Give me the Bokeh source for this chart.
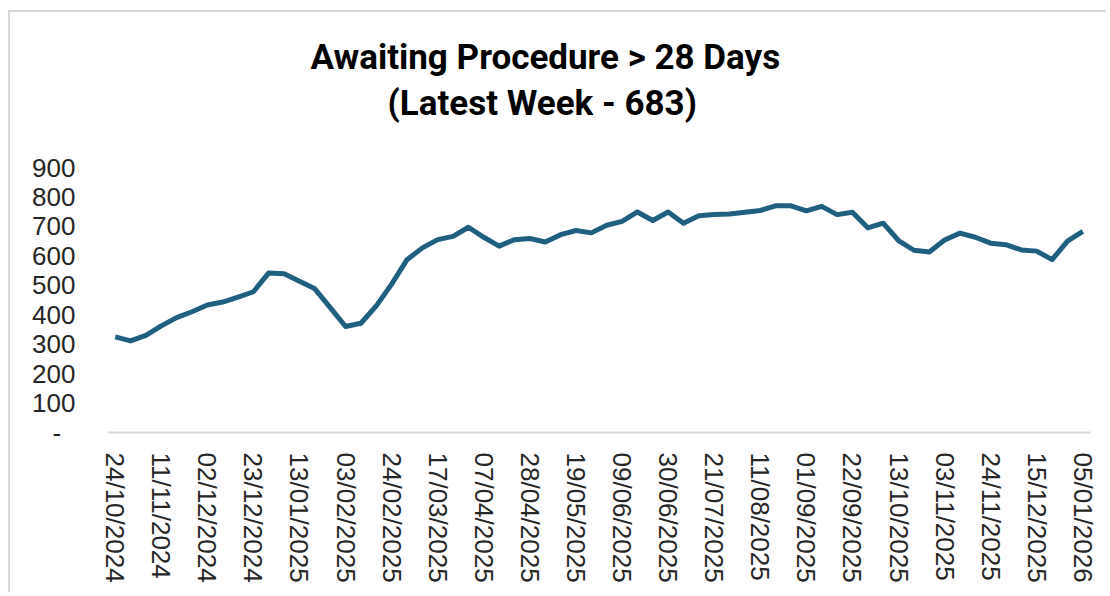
from bokeh.plotting import figure
from bokeh.models import FixedTicker, ColumnDataSource, Title
from bokeh.embed import file_html
from bokeh.resources import INLINE

week_labels = [
    "24/10/2024", "28/10/2024", "04/11/2024", "11/11/2024", "18/11/2024", "25/11/2024",
    "02/12/2024", "09/12/2024", "16/12/2024", "23/12/2024", "30/12/2024",
    "06/01/2025", "13/01/2025", "20/01/2025", "27/01/2025", "03/02/2025", "10/02/2025",
    "17/02/2025", "24/02/2025", "03/03/2025", "10/03/2025", "17/03/2025", "24/03/2025",
    "31/03/2025", "07/04/2025", "14/04/2025", "21/04/2025", "28/04/2025", "05/05/2025",
    "12/05/2025", "19/05/2025", "26/05/2025", "02/06/2025", "09/06/2025", "16/06/2025",
    "23/06/2025", "30/06/2025", "07/07/2025", "14/07/2025", "21/07/2025", "28/07/2025",
    "04/08/2025", "11/08/2025", "18/08/2025", "25/08/2025", "01/09/2025", "08/09/2025",
    "15/09/2025", "22/09/2025", "29/09/2025", "06/10/2025", "13/10/2025", "20/10/2025",
    "27/10/2025", "03/11/2025", "10/11/2025", "17/11/2025", "24/11/2025", "01/12/2025",
    "08/12/2025", "15/12/2025", "22/12/2025", "29/12/2025", "05/01/2026",
]

awaiting = [
    325, 311, 330, 362, 390, 410, 433, 443, 460, 478, 542, 539, 514, 488, 424, 360,
    371, 430, 504, 587, 627, 655, 666, 697, 663, 633, 655, 659, 647, 672, 686, 678,
    704, 717, 749, 720, 749, 711, 736, 740, 742, 748, 754, 770, 770, 753, 768, 740,
    748, 695, 711, 652, 619, 613, 654, 677, 663, 643, 638, 620, 616, 587, 650, 683,
]

y_ticks = [0, 100, 200, 300, 400, 500, 600, 700, 800, 900]
y_tick_labels = ["-\u2007", "100", "200", "300", "400", "500", "600", "700", "800", "900"]
label_every = 3

title_line1 = "Awaiting Procedure > 28 Days"
title_line2 = "(Latest Week - 683)"

idx = list(range(len(week_labels)))
source = ColumnDataSource(data=dict(x=idx, y=awaiting, week=week_labels))

p = figure(
    width=1098, height=582,
    x_range=(-0.5, len(week_labels) - 0.5),
    y_range=(y_ticks[0], y_ticks[-1]),
    output_backend="svg", toolbar_location=None,
    min_border_left=97, min_border_right=18, min_border_top=155, min_border_bottom=162,
)
p.styles = {
    "margin-left": "8px", "margin-top": "10px",
    "border-top": "2px solid #d9d9d9", "border-left": "2px solid #d9d9d9",
}

p.title = None
spacer = Title(text=" ", align="left", standoff=29, text_font_size="10px")
t2 = Title(text=title_line2, align="left", offset=280, standoff=3,
           text_font="Roboto", text_font_style="bold", text_font_size="35px",
           text_color="#000000")
t1 = Title(text=title_line1, align="left", offset=203, standoff=3,
           text_font="Roboto", text_font_style="bold", text_font_size="35px",
           text_color="#000000")
p.add_layout(spacer, "above")
p.add_layout(t2, "above")
p.add_layout(t1, "above")

p.line("x", "y", source=source, line_color="#1f5f80", line_width=5, line_join="round")

p.xgrid.visible = False
p.ygrid.visible = False
p.outline_line_color = None

xt = [i for i in idx if i % label_every == 0]
p.xaxis.ticker = FixedTicker(ticks=xt)
p.xaxis.major_label_overrides = {i: week_labels[i] for i in xt}
p.xaxis.major_label_orientation = "vertical"
p.xaxis.axis_line_color = "#d9d9d9"
p.xaxis.axis_line_width = 2
p.xaxis.major_tick_line_color = None
p.xaxis.minor_tick_line_color = None
p.xaxis.major_label_standoff = 14
p.xaxis.major_label_text_font = "Liberation Sans"
p.xaxis.major_label_text_font_size = "26px"
p.xaxis.major_label_text_color = "#262626"

p.yaxis.ticker = FixedTicker(ticks=y_ticks)
p.yaxis.major_label_overrides = dict(zip(y_ticks, y_tick_labels))
p.yaxis.axis_line_color = None
p.yaxis.major_tick_line_color = None
p.yaxis.minor_tick_line_color = None
p.yaxis.major_label_standoff = 26
p.yaxis.major_label_text_font = "Liberation Sans"
p.yaxis.major_label_text_font_size = "26px"
p.yaxis.major_label_text_color = "#262626"

open("out.html", "w").write(file_html(p, INLINE))
